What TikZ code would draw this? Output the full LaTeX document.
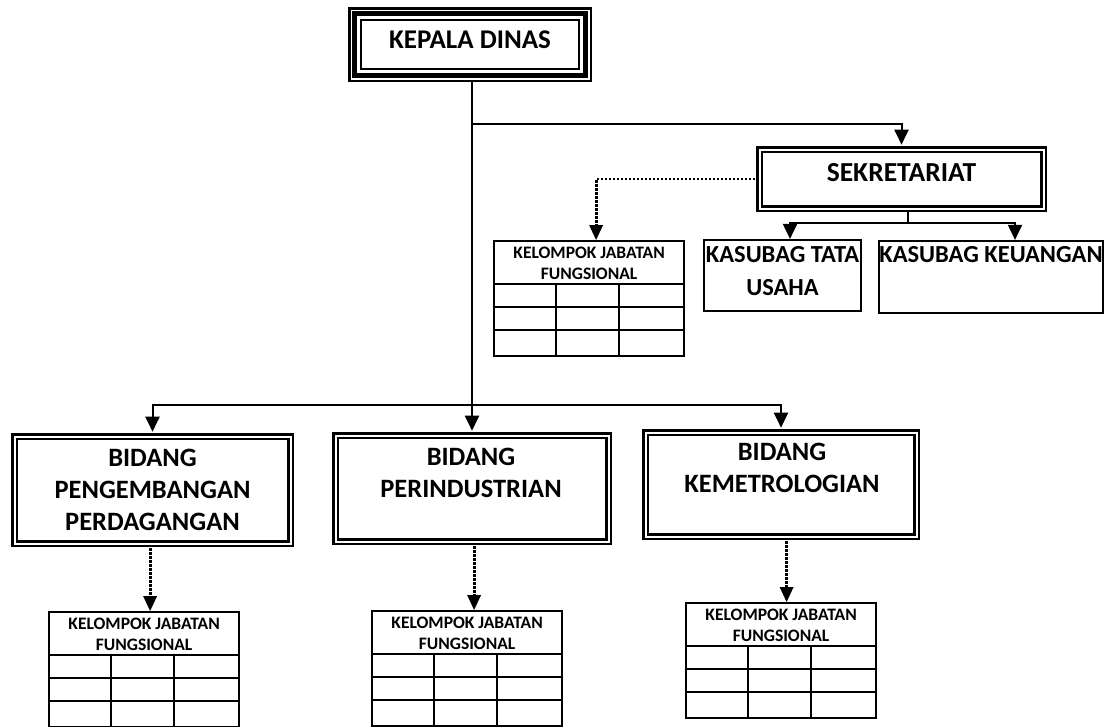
\documentclass[tikz,border=0pt]{standalone}
\usepackage{fontspec}
\setmainfont{Carlito}
\usetikzlibrary{arrows.meta}
\tikzset{
  txt/.style 2 args={font=\bfseries\fontsize{#1}{#2}\selectfont,align=center,inner sep=0pt},
  conn/.style={line width=2pt},
  arr/.style={conn,-{Triangle[length=15pt,width=14pt]}},
  dotarr/.style={line width=2.8pt,dash pattern=on 2.2pt off 1.8pt,-{Triangle[length=15pt,width=14pt,line width=0pt]}},
  dbox/.style={draw,line width=2.6pt,double,double distance=2pt,inner sep=0pt},
  kdbox/.style={draw,line width=2.5pt,inner sep=0pt,minimum width=241.5pt,minimum height=72.5pt},
  sbox/.style={draw,line width=2pt,inner sep=0pt},
  kjbox/.style={draw,line width=2.2pt,inner sep=0pt,anchor=north west,minimum width=190pt,minimum height=115pt},
  gridln/.style={line width=1.3pt}
}
\newcommand\kjfbox[3]{%
  \node[kjbox] (#1) at (#2,#3) {};
  \node[txt={17.5}{21}] (#1t) at ([yshift=-23.5pt]#1.north) {KELOMPOK JABATAN\\FUNGSIONAL};
  \draw[gridln] ([yshift=-44pt]#1.north west) -- ([yshift=-44pt]#1.north east);
  \draw[gridln] ([yshift=-67pt]#1.north west) -- ([yshift=-67pt]#1.north east);
  \draw[gridln] ([yshift=-90pt]#1.north west) -- ([yshift=-90pt]#1.north east);
  \draw[gridln] ([shift={(63,44)}]#1.north west) -- ([xshift=63pt]#1.south west);
  \draw[gridln] ([shift={(126,44)}]#1.north west) -- ([xshift=126pt]#1.south west);
}
\begin{document}
\begin{tikzpicture}[x=1pt,y=-1pt]
\useasboundingbox (0,0) rectangle (1107,726);

% KEPALA DINAS
\node[kdbox] (kd) at (470,44.5) {};
\draw[line width=5pt] ([shift={(6.05,6.05)}]kd.north west) rectangle ([shift={(-6.05,-6.05)}]kd.south east);
\draw[line width=2pt] ([shift={(12.55,12.55)}]kd.north west) rectangle ([shift={(-12.55,-12.55)}]kd.south east);
\node[txt={27}{30}] (kdt) at (470,40) {KEPALA DINAS};

% SEKRETARIAT
\node[dbox,minimum width=284pt,minimum height=59pt] (sek) at (901.5,179) {};
\node[txt={27.5}{30}] (sekt) at (901.5,173) {SEKRETARIAT};

% KASUBAG
\node[sbox,minimum width=157.2pt,minimum height=71.2pt] (tata) at (782.5,275.5) {};
\node[txt={24.5}{33}] (tatat) at (782.5,271.5) {KASUBAG TATA\\USAHA};
\node[sbox,minimum width=224.2pt,minimum height=72.2pt] (keu) at (991,277) {};
\node[txt={24.5}{33}] (keut) at (991,255) {KASUBAG KEUANGAN};

% BIDANG
\node[dbox,minimum width=276pt,minimum height=107pt] (b1) at (152.5,490) {};
\node[txt={26.5}{32}] (b1t) at (152.5,490) {BIDANG\\PENGEMBANGAN\\PERDAGANGAN};
\node[dbox,minimum width=273pt,minimum height=106pt] (b2) at (472,488.5) {};
\node[txt={26.5}{32}] (b2t) at (471,472.5) {BIDANG\\PERINDUSTRIAN};
\node[dbox,minimum width=271pt,minimum height=104pt] (b3) at (781,484.5) {};
\node[txt={26.5}{32}] (b3t) at (782,468) {BIDANG\\KEMETROLOGIAN};

% KELOMPOK JABATAN FUNGSIONAL
\kjfbox{kj0}{493}{240}
\kjfbox{kj1}{48}{611}
\kjfbox{kj2}{371}{610}
\kjfbox{kj3}{685}{602}

% connectors
\coordinate (br) at (472,124);
\coordinate (bus) at (472,405);
\draw[arr,shorten >=3.5pt] (kd.south -| b2.north) -- (b2.north);
\draw[arr,shorten >=3.5pt] (br) -| (sek.north);
\draw[arr,shorten >=3.5pt] (bus) -| (b1.north);
\draw[arr,shorten >=3.5pt] (bus) -| (b3.north);

\coordinate (sb) at (908,223);
\draw[conn] (sek.south -| sb) -- (sb);
\draw[arr] (sb) -| ([xshift=7.5pt]tata.north);
\draw[arr] (sb) -| ([xshift=24pt]keu.north);

\draw[dotarr,shorten <=3.5pt] (sek.west) -| ([xshift=7pt]kj0.north);
\draw[dotarr,shorten <=3.5pt] ([xshift=6pt]kj1.north |- b1.south) -- ([xshift=6pt]kj1.north);
\draw[dotarr,shorten <=3.5pt] ([xshift=7pt]kj2.north |- b2.south) -- ([xshift=7pt]kj2.north);
\draw[dotarr,shorten <=3.5pt] ([xshift=5.5pt]kj3.north |- b3.south) -- ([xshift=5.5pt]kj3.north);
\end{tikzpicture}
\end{document}
